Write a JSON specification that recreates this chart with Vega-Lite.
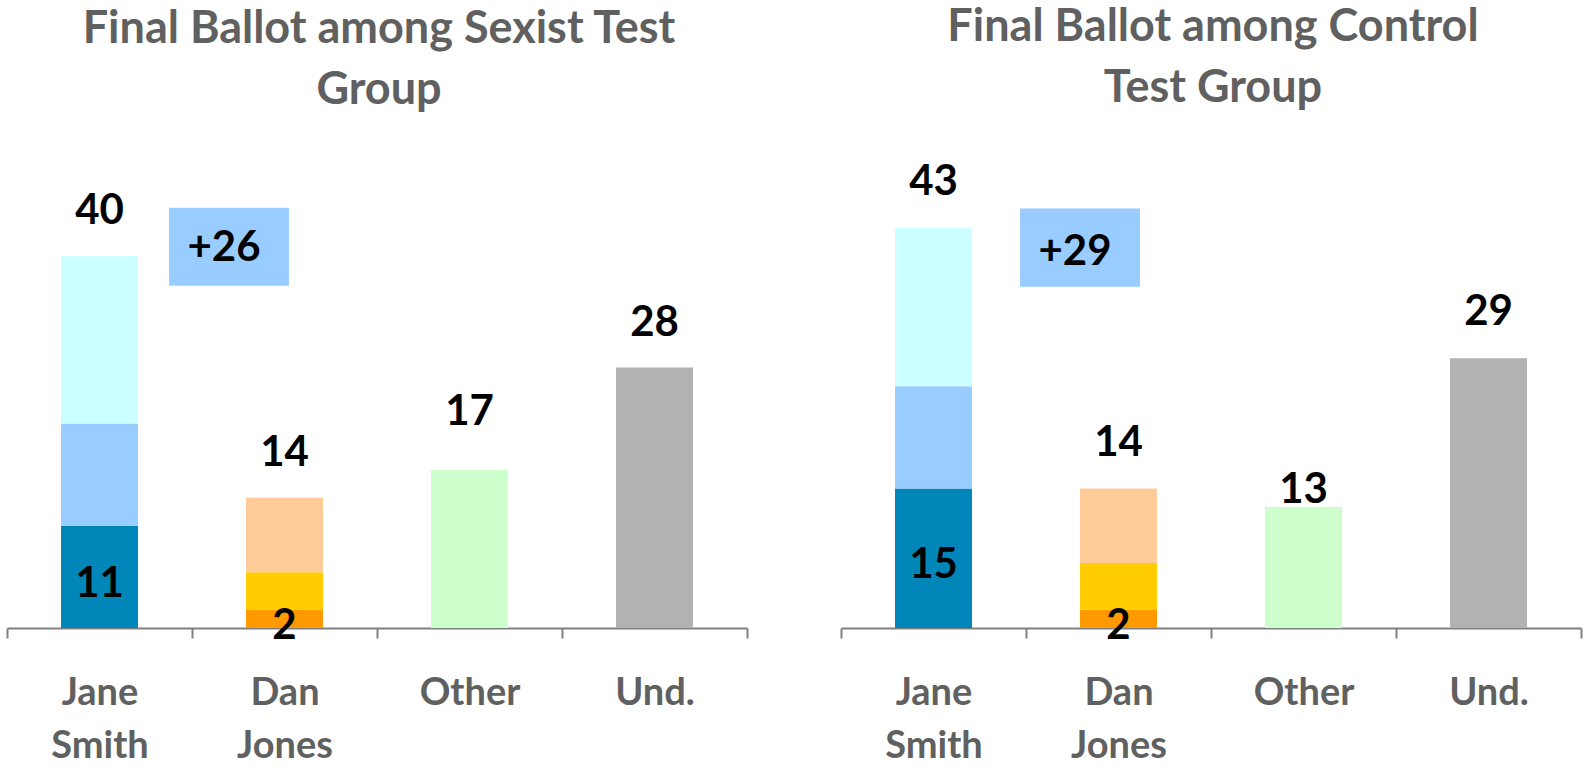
{
  "$schema": "https://vega.github.io/schema/vega-lite/v6.json",
  "background": "white",
  "padding": {"left": 6, "right": 6, "top": 5, "bottom": 0},
  "spacing": 92,
  "config": {"view": {"stroke": null}, "font": "Lato", "concat": {"spacing": 92}},
  "datasets": {
    "segments": [
      {"panel": "Sexist", "candidate": "Jane Smith", "segment": "Smith (firm)", "tier": 1, "value": 11},
      {"panel": "Sexist", "candidate": "Jane Smith", "segment": "Smith (soft)", "tier": 2, "value": 11},
      {"panel": "Sexist", "candidate": "Jane Smith", "segment": "Smith (lean)", "tier": 3, "value": 18},
      {"panel": "Sexist", "candidate": "Dan Jones", "segment": "Jones (firm)", "tier": 1, "value": 2},
      {"panel": "Sexist", "candidate": "Dan Jones", "segment": "Jones (soft)", "tier": 2, "value": 4},
      {"panel": "Sexist", "candidate": "Dan Jones", "segment": "Jones (lean)", "tier": 3, "value": 8},
      {"panel": "Sexist", "candidate": "Other", "segment": "Other", "tier": 1, "value": 17},
      {"panel": "Sexist", "candidate": "Und.", "segment": "Undecided", "tier": 1, "value": 28},
      {"panel": "Control", "candidate": "Jane Smith", "segment": "Smith (firm)", "tier": 1, "value": 15},
      {"panel": "Control", "candidate": "Jane Smith", "segment": "Smith (soft)", "tier": 2, "value": 11},
      {"panel": "Control", "candidate": "Jane Smith", "segment": "Smith (lean)", "tier": 3, "value": 17},
      {"panel": "Control", "candidate": "Dan Jones", "segment": "Jones (firm)", "tier": 1, "value": 2},
      {"panel": "Control", "candidate": "Dan Jones", "segment": "Jones (soft)", "tier": 2, "value": 5},
      {"panel": "Control", "candidate": "Dan Jones", "segment": "Jones (lean)", "tier": 3, "value": 8},
      {"panel": "Control", "candidate": "Other", "segment": "Other", "tier": 1, "value": 13},
      {"panel": "Control", "candidate": "Und.", "segment": "Undecided", "tier": 1, "value": 29}
    ],
    "totals": [
      {"panel": "Sexist", "candidate": "Jane Smith", "total": 40, "label": "40"},
      {"panel": "Sexist", "candidate": "Dan Jones", "total": 14, "label": "14"},
      {"panel": "Sexist", "candidate": "Other", "total": 17, "label": "17"},
      {"panel": "Sexist", "candidate": "Und.", "total": 28, "label": "28"},
      {"panel": "Control", "candidate": "Jane Smith", "total": 43, "label": "43"},
      {"panel": "Control", "candidate": "Dan Jones", "total": 15, "label": "14"},
      {"panel": "Control", "candidate": "Other", "total": 13, "label": "13"},
      {"panel": "Control", "candidate": "Und.", "total": 29, "label": "29"}
    ],
    "gaps": [
      {"panel": "Sexist", "label": "+26"},
      {"panel": "Control", "label": "+29"}
    ]
  },
  "hconcat": [
    {
      "width": 740,
      "height": 465,
      "title": {"text": ["Final Ballot among Sexist Test", "Group"], "font": "Lato", "fontSize": 45, "fontWeight": "bold", "color": "#606060", "lineHeight": 61, "offset": 50, "anchor": "middle", "dx": 2},
      "layer": [
        {
          "data": {"name": "segments"},
          "transform": [{"filter": "datum.panel == 'Sexist'"}],
          "mark": {"type": "bar", "width": {"band": 0.416}},
          "encoding": {
            "x": {"field": "candidate", "type": "nominal", "title": null,
              "scale": {"domain": ["Jane Smith", "Dan Jones", "Other", "Und."], "paddingInner": 0, "paddingOuter": 0},
              "axis": {"domainColor": "#808080", "domainWidth": 2, "tickColor": "#808080", "tickWidth": 2, "tickSize": 10, "tickBand": "extent", "labelFont": "Lato", "labelFontSize": 38, "labelFontWeight": "bold", "labelColor": "#606060", "labelPadding": 36, "labelLineHeight": 53, "labelExpr": "split(datum.label, ' ')", "labelAngle": 0, "labelBaseline": "top", "labelLimit": 0}},
            "y": {"field": "value", "type": "quantitative", "stack": "zero", "scale": {"domain": [0, 50]}, "axis": null},
            "color": {"field": "segment", "type": "nominal", "legend": null,
              "scale": {"domain": ["Smith (firm)", "Smith (soft)", "Smith (lean)", "Jones (firm)", "Jones (soft)", "Jones (lean)", "Other", "Undecided"],
                        "range": ["#0086B8", "#99CCFF", "#CCFFFF", "#FF9900", "#FFCC00", "#FFCC99", "#CCFFCC", "#B2B2B2"]}},
            "order": {"field": "tier", "type": "quantitative"}
          }
        },
        {
          "data": {"name": "totals"},
          "transform": [{"filter": "datum.panel == 'Sexist' && datum.candidate != 'Other'"}],
          "mark": {"type": "text", "font": "Lato", "fontSize": 42, "fontWeight": "bold", "color": "black", "baseline": "alphabetic", "dy": -32},
          "encoding": {
            "x": {"field": "candidate", "type": "nominal"},
            "y": {"field": "total", "type": "quantitative", "scale": {"domain": [0, 50]}, "axis": null},
            "text": {"field": "label"}
          }
        },
        {
          "data": {"name": "totals"},
          "transform": [{"filter": "datum.panel == 'Sexist' && datum.candidate == 'Other'"}],
          "mark": {"type": "text", "font": "Lato", "fontSize": 42, "fontWeight": "bold", "color": "black", "baseline": "alphabetic", "dy": -45},
          "encoding": {
            "x": {"field": "candidate", "type": "nominal"},
            "y": {"field": "total", "type": "quantitative", "scale": {"domain": [0, 50]}, "axis": null},
            "text": {"field": "label"}
          }
        },
        {
          "data": {"name": "segments"},
          "transform": [{"filter": "datum.panel == 'Sexist' && datum.tier == 1 && datum.candidate != 'Other' && datum.candidate != 'Und.'"}],
          "mark": {"type": "text", "font": "Lato", "fontSize": 42, "fontWeight": "bold", "color": "black", "baseline": "alphabetic", "dy": 20},
          "encoding": {
            "x": {"field": "candidate", "type": "nominal"},
            "y": {"field": "value", "type": "quantitative", "scale": {"domain": [0, 100]}, "axis": null},
            "text": {"field": "value"}
          }
        },
        {
          "data": {"name": "gaps"},
          "transform": [{"filter": "datum.panel == 'Sexist'"}],
          "mark": {"type": "rect", "color": "#99CCFF"},
          "encoding": {
            "x": {"datum": "Jane Smith", "bandPosition": 0.876},
            "x2": {"datum": "Dan Jones", "bandPosition": 0.524},
            "y": {"datum": 45.2, "type": "quantitative", "scale": {"domain": [0, 50]}, "axis": null},
            "y2": {"datum": 36.8}
          }
        },
        {
          "data": {"name": "gaps"},
          "transform": [{"filter": "datum.panel == 'Sexist'"}],
          "mark": {"type": "text", "font": "Lato", "fontSize": 42, "fontWeight": "bold", "color": "black", "baseline": "alphabetic"},
          "encoding": {
            "x": {"datum": "Jane Smith", "bandPosition": 1.173},
            "y": {"datum": 39.5, "type": "quantitative", "scale": {"domain": [0, 50]}, "axis": null},
            "text": {"field": "label"}
          }
        }
      ],
      "resolve": {"scale": {"y": "independent"}}
    },
    {
      "width": 740,
      "height": 465,
      "title": {"text": ["Final Ballot among Control", "Test Group"], "font": "Lato", "fontSize": 45, "fontWeight": "bold", "color": "#606060", "lineHeight": 61, "offset": 50, "anchor": "middle", "dx": 2},
      "layer": [
        {
          "data": {"name": "segments"},
          "transform": [{"filter": "datum.panel == 'Control'"}],
          "mark": {"type": "bar", "width": {"band": 0.416}},
          "encoding": {
            "x": {"field": "candidate", "type": "nominal", "title": null,
              "scale": {"domain": ["Jane Smith", "Dan Jones", "Other", "Und."], "paddingInner": 0, "paddingOuter": 0},
              "axis": {"domainColor": "#808080", "domainWidth": 2, "tickColor": "#808080", "tickWidth": 2, "tickSize": 10, "tickBand": "extent", "labelFont": "Lato", "labelFontSize": 38, "labelFontWeight": "bold", "labelColor": "#606060", "labelPadding": 36, "labelLineHeight": 53, "labelExpr": "split(datum.label, ' ')", "labelAngle": 0, "labelBaseline": "top", "labelLimit": 0}},
            "y": {"field": "value", "type": "quantitative", "stack": "zero", "scale": {"domain": [0, 50]}, "axis": null},
            "color": {"field": "segment", "type": "nominal", "legend": null,
              "scale": {"domain": ["Smith (firm)", "Smith (soft)", "Smith (lean)", "Jones (firm)", "Jones (soft)", "Jones (lean)", "Other", "Undecided"],
                        "range": ["#0086B8", "#99CCFF", "#CCFFFF", "#FF9900", "#FFCC00", "#FFCC99", "#CCFFCC", "#B2B2B2"]}},
            "order": {"field": "tier", "type": "quantitative"}
          }
        },
        {
          "data": {"name": "totals"},
          "transform": [{"filter": "datum.panel == 'Control' && datum.candidate != 'Other'"}],
          "mark": {"type": "text", "font": "Lato", "fontSize": 42, "fontWeight": "bold", "color": "black", "baseline": "alphabetic", "dy": -33},
          "encoding": {
            "x": {"field": "candidate", "type": "nominal"},
            "y": {"field": "total", "type": "quantitative", "scale": {"domain": [0, 50]}, "axis": null},
            "text": {"field": "label"}
          }
        },
        {
          "data": {"name": "totals"},
          "transform": [{"filter": "datum.panel == 'Control' && datum.candidate == 'Other'"}],
          "mark": {"type": "text", "font": "Lato", "fontSize": 42, "fontWeight": "bold", "color": "black", "baseline": "alphabetic", "dy": -4},
          "encoding": {
            "x": {"field": "candidate", "type": "nominal"},
            "y": {"field": "total", "type": "quantitative", "scale": {"domain": [0, 50]}, "axis": null},
            "text": {"field": "label"}
          }
        },
        {
          "data": {"name": "segments"},
          "transform": [{"filter": "datum.panel == 'Control' && datum.tier == 1 && datum.candidate != 'Other' && datum.candidate != 'Und.'"}],
          "mark": {"type": "text", "font": "Lato", "fontSize": 42, "fontWeight": "bold", "color": "black", "baseline": "alphabetic", "dy": 20},
          "encoding": {
            "x": {"field": "candidate", "type": "nominal"},
            "y": {"field": "value", "type": "quantitative", "scale": {"domain": [0, 100]}, "axis": null},
            "text": {"field": "value"}
          }
        },
        {
          "data": {"name": "gaps"},
          "transform": [{"filter": "datum.panel == 'Control'"}],
          "mark": {"type": "rect", "color": "#99CCFF"},
          "encoding": {
            "x": {"datum": "Jane Smith", "bandPosition": 0.968},
            "x2": {"datum": "Dan Jones", "bandPosition": 0.616},
            "y": {"datum": 45.1, "type": "quantitative", "scale": {"domain": [0, 50]}, "axis": null},
            "y2": {"datum": 36.7}
          }
        },
        {
          "data": {"name": "gaps"},
          "transform": [{"filter": "datum.panel == 'Control'"}],
          "mark": {"type": "text", "font": "Lato", "fontSize": 42, "fontWeight": "bold", "color": "black", "baseline": "alphabetic"},
          "encoding": {
            "x": {"datum": "Jane Smith", "bandPosition": 1.265},
            "y": {"datum": 39.0, "type": "quantitative", "scale": {"domain": [0, 50]}, "axis": null},
            "text": {"field": "label"}
          }
        }
      ],
      "resolve": {"scale": {"y": "independent"}}
    }
  ]
}
